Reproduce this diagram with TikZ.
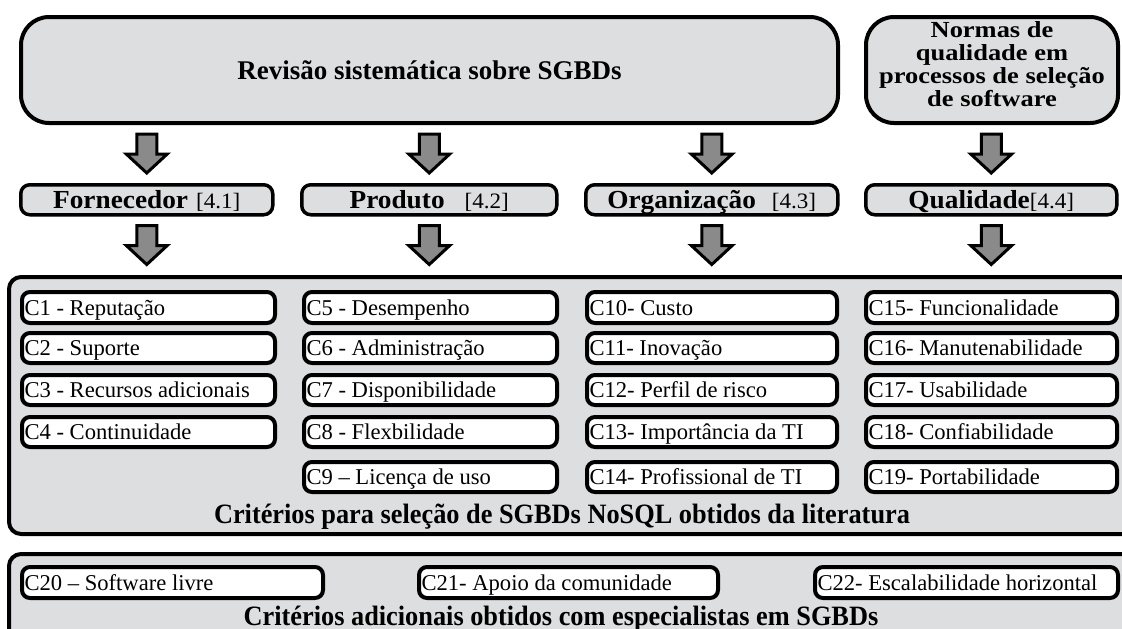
\documentclass[tikz,border=0pt]{standalone}
\usepackage{fontspec}
\setmainfont{Liberation Serif}
\newfontfamily\normf[FakeStretch=1.15]{Liberation Serif}
\newfontfamily\botf[FakeStretch=0.94]{Liberation Serif}
\newfontfamily\catf[FakeStretch=1.05]{Liberation Serif}
\usetikzlibrary{calc}
\definecolor{boxgray}{RGB}{221,222,224}
\definecolor{arrgray}{RGB}{138,138,138}
\tikzset{
 bigbox/.style={draw=black, line width=4pt, fill=boxgray, rounded corners=28pt, inner sep=0pt},
 catbox/.style={draw=black, line width=3.5pt, fill=boxgray, rounded corners=9pt, inner sep=0pt, text height=22pt, text depth=4pt, font=\catf\fontsize{26}{28}\selectfont},
 critbox/.style={draw=black, line width=4pt, fill=boxgray, rounded corners=12pt, inner sep=0pt},
 itembox/.style={draw=black, line width=4pt, fill=white, rounded corners=8pt, inner xsep=2.5pt, inner ysep=0pt, text height=20pt, text depth=5pt, font=\fontsize{22.6}{25}\selectfont},
 titletext/.style={font=\bfseries\fontsize{27}{29}\selectfont},
 normtext/.style={font=\normf\bfseries\fontsize{23}{23}\selectfont, align=center},
 bottitle/.style={font=\botf\bfseries\fontsize{28}{30}\selectfont, inner sep=0pt},
 arrowsty/.style={draw=black, line width=3pt, fill=arrgray, line join=miter},
 darr/.pic={\draw[arrowsty] (-10,0) -- (10,0) -- (10,20) -- (20.5,20) -- (0,39) -- (-20.5,20) -- (-10,20) -- cycle;}
}
% box: name, style, x1, y1, x2, y2, text
\newcommand{\mybx}[7]{%
  \pgfmathsetmacro{\myw}{#5-#3}\pgfmathsetmacro{\myh}{#6-#4}%
  \node[#2, minimum width=\myw pt, minimum height=\myh pt, anchor=north west] (#1) at (#3,#4) {#7};}
% item: name, x1, y1, x2, y2, text
\newcommand{\myitm}[6]{%
  \pgfmathsetmacro{\myw}{#4-#2}\pgfmathsetmacro{\myh}{#5-#3}%
  \node[itembox, minimum width=\myw pt, minimum height=\myh pt, anchor=north west] (#1) at (#2,#3) {\makebox[\dimexpr\myw pt-5pt\relax][l]{#6}};}
\newcommand{\secref}[1]{{\fontsize{22}{24}\selectfont[#1]}}
\begin{document}
\begin{tikzpicture}[x=1pt, y=-1pt]
\useasboundingbox (0,0) rectangle (1122,629);
\clip (0,0) rectangle (1122,629);
\fill[white] (0,0) rectangle (1122,629);

% top boxes
\mybx{rev}{bigbox, titletext}{19}{15}{836}{121}{Revisão sistemática sobre SGBDs}
\mybx{norm}{bigbox, normtext}{864}{15}{1116}{121}{Normas de\\qualidade em\\processos de seleção\\de software\rule[-12pt]{0pt}{12pt}}

% category boxes
\mybx{forn}{catbox}{19}{183}{271}{213}{\textbf{Fornecedor}\hspace{8pt}\secref{4.1}}
\mybx{prod}{catbox}{300}{183}{555}{213}{\textbf{Produto}\hspace{20pt}\secref{4.2}}
\mybx{org}{catbox}{584}{183}{836}{213}{\textbf{Organização}\hspace{16pt}\secref{4.3}}
\mybx{qual}{catbox}{864}{183}{1115}{213}{\textbf{Qualidade}\secref{4.4}}

% arrows
\pic at ($(forn.north |- rev.south)+(0,9)$) {darr};
\pic at ($(prod.north |- rev.south)+(0,9)$) {darr};
\pic at ($(org.north |- rev.south)+(0,9)$) {darr};
\pic at ($(qual.north |- norm.south)+(0,9)$) {darr};

% criteria boxes
\mybx{crit}{critbox}{7}{275}{1150}{532}{}
\mybx{adic}{critbox}{7}{552}{1150}{690}{}

\pic at ($(forn.south)+(0,9)$) {darr};
\pic at ($(prod.south)+(0,9)$) {darr};
\pic at ($(org.south)+(0,9)$) {darr};
\pic at ($(qual.south)+(0,9)$) {darr};

% column 1
\myitm{c1}{20}{290}{273}{321}{C1 - Reputação}
\myitm{c2}{20}{331}{273}{361}{C2 - Suporte}
\myitm{c3}{20}{373}{273}{403}{C3 - Recursos adicionais}
\myitm{c4}{20}{415}{273}{445}{C4 - Continuidade}
% column 2
\myitm{c5}{302}{290}{555}{321}{C5 - Desempenho}
\myitm{c6}{302}{331}{555}{361}{C6 - Administração}
\myitm{c7}{302}{373}{555}{403}{C7 - Disponibilidade}
\myitm{c8}{302}{415}{555}{445}{C8 - Flexbilidade}
\myitm{c9}{302}{460}{555}{490}{C9 – Licença de uso}
% column 3
\myitm{c10}{585}{290}{835}{321}{C10- Custo}
\myitm{c11}{585}{331}{835}{361}{C11- Inovação}
\myitm{c12}{585}{373}{835}{403}{C12- Perfil de risco}
\myitm{c13}{585}{415}{835}{445}{C13- Importância da TI}
\myitm{c14}{585}{460}{835}{490}{C14- Profissional de TI}
% column 4
\myitm{c15}{864}{290}{1115}{321}{C15- Funcionalidade}
\myitm{c16}{864}{331}{1115}{361}{C16- Manutenabilidade}
\myitm{c17}{864}{373}{1115}{403}{C17- Usabilidade}
\myitm{c18}{864}{415}{1115}{445}{C18- Confiabilidade}
\myitm{c19}{864}{460}{1115}{490}{C19- Portabilidade}

\node[bottitle, anchor=base] (crittitle) at (562,523) {Critérios para seleção de SGBDs NoSQL obtidos da literatura};

% additional criteria
\myitm{c20}{20}{565}{321}{596}{C20 – Software livre}
\myitm{c21}{417}{565}{716}{596}{C21- Apoio da comunidade}
\myitm{c22}{813}{565}{1116}{596}{C22- Escalabilidade horizontal}

\node[bottitle, anchor=base] (adictitle) at (561,625) {Critérios adicionais obtidos com especialistas em SGBDs};
\end{tikzpicture}
\end{document}
